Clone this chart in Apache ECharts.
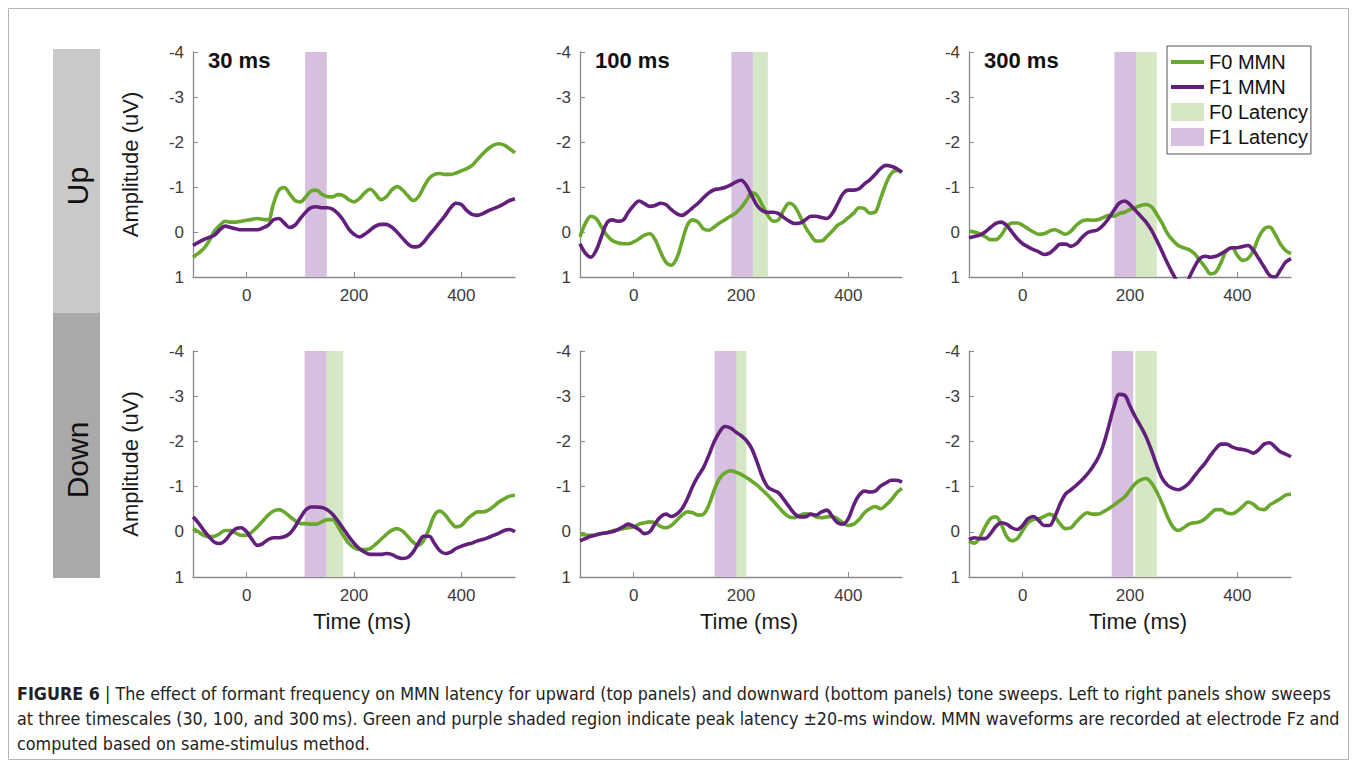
<!DOCTYPE html>
<html><head><meta charset="utf-8">
<script src="https://cdn.jsdelivr.net/npm/echarts@6/dist/echarts.min.js"></script>
<style>html,body{margin:0;padding:0;background:#fff}#c{width:1357px;height:767px}</style>
</head><body><div id="c"></div>
<script>
// ---------- DATA ----------
const T = [-100,-90,-80,-70,-60,-50,-40,-30,-20,-10,0,10,20,30,40,50,60,70,80,90,100,110,120,130,140,150,160,170,180,190,200,210,220,230,240,250,260,270,280,290,300,310,320,330,340,350,360,370,380,390,400,410,420,430,440,450,460,470,480,490,500];

const up30F0 = [0.56,0.47,0.37,0.2,-0.02,-0.15,-0.24,-0.22,-0.22,-0.24,-0.26,-0.28,-0.30,-0.28,-0.27,-0.63,-0.93,-0.99,-0.85,-0.70,-0.67,-0.78,-0.91,-0.93,-0.84,-0.79,-0.78,-0.83,-0.81,-0.72,-0.67,-0.74,-0.87,-0.95,-0.85,-0.72,-0.78,-0.93,-1.01,-0.94,-0.81,-0.70,-0.78,-1.0,-1.19,-1.28,-1.30,-1.28,-1.28,-1.31,-1.36,-1.41,-1.48,-1.61,-1.74,-1.85,-1.93,-1.96,-1.93,-1.85,-1.76];
const up30F1 = [0.30,0.23,0.17,0.12,0.07,-0.05,-0.13,-0.10,-0.07,-0.05,-0.05,-0.05,-0.05,-0.09,-0.15,-0.27,-0.30,-0.20,-0.10,-0.15,-0.30,-0.44,-0.54,-0.56,-0.54,-0.54,-0.51,-0.41,-0.26,-0.07,0.05,0.11,0.05,-0.04,-0.13,-0.17,-0.17,-0.11,0.0,0.13,0.26,0.33,0.32,0.22,0.07,-0.07,-0.22,-0.37,-0.54,-0.64,-0.61,-0.48,-0.39,-0.37,-0.41,-0.47,-0.52,-0.57,-0.63,-0.70,-0.74];
const up100F0 = [0.11,-0.19,-0.35,-0.30,-0.11,0.07,0.19,0.24,0.26,0.26,0.22,0.15,0.07,0.04,0.17,0.44,0.67,0.74,0.59,0.22,-0.15,-0.27,-0.22,-0.07,-0.04,-0.11,-0.20,-0.27,-0.35,-0.42,-0.54,-0.70,-0.87,-0.81,-0.59,-0.37,-0.24,-0.27,-0.50,-0.64,-0.57,-0.35,-0.11,0.07,0.20,0.20,0.10,-0.02,-0.15,-0.22,-0.32,-0.42,-0.54,-0.52,-0.42,-0.44,-0.74,-1.07,-1.30,-1.37,-1.33];
const up100F1 = [0.26,0.47,0.56,0.41,0.10,-0.20,-0.27,-0.24,-0.26,-0.44,-0.59,-0.69,-0.63,-0.57,-0.59,-0.64,-0.61,-0.50,-0.41,-0.37,-0.44,-0.54,-0.64,-0.76,-0.87,-0.94,-0.96,-0.99,-1.04,-1.11,-1.15,-1.04,-0.81,-0.59,-0.47,-0.44,-0.44,-0.41,-0.32,-0.24,-0.19,-0.20,-0.27,-0.35,-0.35,-0.32,-0.30,-0.41,-0.63,-0.85,-0.93,-0.93,-0.96,-1.07,-1.16,-1.28,-1.41,-1.48,-1.46,-1.41,-1.33];
const up300F0 = [-0.02,0,0.04,0.10,0.17,0.17,0.07,-0.11,-0.20,-0.20,-0.15,-0.07,0,0.05,0.04,-0.02,-0.05,0,0.05,-0.02,-0.15,-0.24,-0.27,-0.26,-0.27,-0.32,-0.37,-0.35,-0.41,-0.44,-0.50,-0.54,-0.59,-0.61,-0.56,-0.39,-0.19,0.04,0.19,0.30,0.35,0.39,0.48,0.63,0.78,0.93,0.89,0.67,0.41,0.35,0.52,0.63,0.59,0.41,0.11,-0.07,-0.11,0.04,0.26,0.41,0.48];
const up300F1 = [0.13,0.10,0.07,0,-0.10,-0.19,-0.22,-0.15,0,0.15,0.26,0.33,0.39,0.44,0.50,0.47,0.37,0.27,0.27,0.32,0.26,0.13,0.02,-0.02,-0.05,-0.15,-0.30,-0.48,-0.64,-0.69,-0.61,-0.48,-0.35,-0.22,-0.04,0.19,0.44,0.70,0.93,1.15,1.30,1.02,0.78,0.59,0.54,0.56,0.54,0.48,0.41,0.35,0.35,0.32,0.30,0.41,0.59,0.78,0.96,1.0,0.85,0.67,0.59];
const dn30F0 = [-0.07,0,0.08,0.11,0.10,0.04,-0.03,-0.03,0.03,0.08,0.08,0,-0.11,-0.24,-0.37,-0.46,-0.49,-0.44,-0.34,-0.25,-0.18,-0.18,-0.17,-0.17,-0.22,-0.27,-0.27,-0.12,0.08,0.25,0.35,0.39,0.39,0.37,0.28,0.17,0.06,-0.03,-0.07,-0.02,0.10,0.23,0.30,0.19,-0.07,-0.37,-0.46,-0.37,-0.22,-0.11,-0.14,-0.27,-0.37,-0.44,-0.44,-0.48,-0.56,-0.66,-0.73,-0.79,-0.81];
const dn30F1 = [-0.33,-0.20,-0.03,0.11,0.23,0.26,0.19,0.04,-0.07,-0.09,0,0.17,0.30,0.26,0.17,0.13,0.13,0.11,0.04,-0.11,-0.31,-0.48,-0.55,-0.55,-0.54,-0.49,-0.39,-0.24,-0.07,0.10,0.25,0.37,0.45,0.50,0.50,0.50,0.48,0.50,0.56,0.59,0.57,0.45,0.25,0.10,0.10,0.26,0.42,0.48,0.45,0.37,0.32,0.28,0.25,0.20,0.17,0.13,0.08,0.03,-0.03,-0.05,0];
const dn100F0 = [0.06,0.07,0.08,0.06,0.04,0.02,-0.02,-0.04,-0.07,-0.09,-0.11,-0.17,-0.20,-0.22,-0.20,-0.12,-0.09,-0.14,-0.25,-0.37,-0.44,-0.42,-0.37,-0.39,-0.59,-0.92,-1.18,-1.30,-1.35,-1.32,-1.27,-1.20,-1.12,-1.03,-0.92,-0.81,-0.68,-0.55,-0.42,-0.33,-0.31,-0.37,-0.40,-0.39,-0.33,-0.31,-0.33,-0.34,-0.29,-0.20,-0.14,-0.17,-0.27,-0.42,-0.51,-0.56,-0.51,-0.59,-0.71,-0.86,-0.96];
const dn100F1 = [0.20,0.15,0.10,0.07,0.04,0.02,0,-0.05,-0.11,-0.17,-0.12,-0.05,0.04,0,-0.18,-0.33,-0.39,-0.34,-0.39,-0.51,-0.73,-1.01,-1.23,-1.42,-1.69,-1.99,-2.21,-2.33,-2.30,-2.21,-2.13,-2.02,-1.84,-1.54,-1.21,-0.99,-0.92,-0.86,-0.71,-0.55,-0.40,-0.33,-0.33,-0.39,-0.37,-0.44,-0.48,-0.34,-0.20,-0.17,-0.29,-0.59,-0.81,-0.90,-0.88,-0.90,-1.01,-1.08,-1.14,-1.14,-1.10];
const dn300F0 = [0.20,0.25,0.13,-0.11,-0.29,-0.33,-0.17,0.10,0.20,0.15,-0.03,-0.20,-0.27,-0.29,-0.34,-0.39,-0.33,-0.17,-0.07,-0.09,-0.22,-0.34,-0.42,-0.39,-0.39,-0.44,-0.51,-0.59,-0.68,-0.77,-0.92,-1.07,-1.15,-1.18,-1.08,-0.88,-0.62,-0.33,-0.11,-0.03,-0.09,-0.17,-0.20,-0.22,-0.29,-0.40,-0.49,-0.49,-0.42,-0.40,-0.46,-0.56,-0.66,-0.61,-0.51,-0.49,-0.59,-0.66,-0.73,-0.81,-0.83];
const dn300F1 = [0.17,0.13,0.15,0.15,0.04,-0.12,-0.20,-0.17,-0.09,-0.05,-0.14,-0.29,-0.34,-0.25,-0.14,-0.14,-0.34,-0.62,-0.84,-0.93,-1.03,-1.14,-1.27,-1.43,-1.62,-1.91,-2.32,-2.76,-3.04,-3.02,-2.78,-2.54,-2.33,-2.10,-1.80,-1.47,-1.18,-1.03,-0.96,-0.93,-0.98,-1.08,-1.23,-1.38,-1.52,-1.69,-1.84,-1.94,-1.94,-1.88,-1.84,-1.82,-1.79,-1.74,-1.82,-1.94,-1.97,-1.88,-1.77,-1.72,-1.66];

// latency windows (peak +/- 20 ms), per timescale 30 / 100 / 300 ms
const upF0Lat = [[109,149],[210,250],[210,250]];
const upF1Lat = [[109,149],[182,222],[171,211]];
const dnF0Lat = [[140,180],[170,210],[210,250]];
const dnF1Lat = [[108,148],[151,191],[166,206]];

const panelTitles = ['30 ms','100 ms','300 ms'];
const rowLabels = ['Up','Down'];
const xTicks = [0,200,400];
const seriesNames = ['F0 MMN','F1 MMN','F0 Latency','F1 Latency'];
const captionHead = 'FIGURE 6';
const captionLines = [
  ' | The effect of formant frequency on MMN latency for upward (top panels) and downward (bottom panels) tone sweeps. Left to right panels show sweeps',
  'at three timescales (30, 100, and 300\u2009ms). Green and purple shaded region indicate peak latency \u00b120-ms window. MMN waveforms are recorded at electrode Fz and',
  'computed based on same-stimulus method.'
];

// ---------- CHART ----------
const FONT = "'Liberation Sans', Arial, sans-serif";
const GREEN = '#69a82c', PURPLE = '#62207c', GREEN_BAND = '#d5e7c5', PURPLE_BAND = '#d7bfe0';
const AXIS = '#8a8a8a', LABEL = '#3c3c3c';
const LINE_ICON = 'path://M0,0L33,0L33,4L0,4Z';

// caption font: condensed face if present, size fitted to the caption block width
function pickFont(list){
  const c = document.createElement('canvas').getContext('2d');
  c.font = '40px monospace'; const base = c.measureText('abcdefghijklmnop MMN Fz').width;
  for (const f of list){ c.font = "40px '"+f+"', monospace"; if (Math.abs(c.measureText('abcdefghijklmnop MMN Fz').width-base) > 0.5) return f; }
  return 'Liberation Sans';
}
const capFont = pickFont(['Liberation Sans Narrow','DejaVu Sans Condensed','Liberation Sans']);
const capFam = "'"+capFont+"', 'Liberation Sans', sans-serif";
const capSize = (function(){
  const c = document.createElement('canvas').getContext('2d');
  c.font = "bold 20px " + capFam; const wb = c.measureText(captionHead).width;
  c.font = "20px " + capFam;
  const w1 = wb + c.measureText(captionLines[0]).width;
  const w2 = c.measureText(captionLines[1]).width;
  return Math.min(20, 20*1324/Math.max(w1, w2));
})();

const rows = [
  {f0:[up30F0,up100F0,up300F0], f1:[up30F1,up100F1,up300F1], l0:upF0Lat, l1:upF1Lat},
  {f0:[dn30F0,dn100F0,dn300F0], f1:[dn30F1,dn100F1,dn300F1], l0:dnF0Lat, l1:dnF1Lat}
];
const lefts = [193, 580, 969], tops = [52, 351], heights = [225, 226], W = 322;

const grid = [], xAxis = [], yAxis = [], series = [], title = [];
function band(color){
  return function(params, api){
    const a = api.coord([api.value(0), -4]);
    const b = api.coord([api.value(1), 1]);
    return {type:'rect', shape:{x:a[0], y:a[1], width:b[0]-a[0], height:b[1]-a[1]}, style:{fill:color}};
  };
}
rows.forEach((row, r) => {
  for (let c = 0; c < 3; c++){
    const i = grid.length;
    grid.push({left:lefts[c], top:tops[r], width:W, height:heights[r], containLabel:false});
    xAxis.push({type:'value', gridIndex:i, min:-100, max:500,
      axisLine:{show:true, onZero:false, lineStyle:{color:AXIS, width:1.3}},
      axisTick:{show:true, inside:true, length:5, customValues:xTicks, lineStyle:{color:AXIS}},
      axisLabel:{customValues:xTicks, fontSize:17, color:LABEL, fontFamily:FONT, margin:10},
      splitLine:{show:false},
      name: r === 1 ? 'Time (ms)' : '', nameLocation:'middle', nameGap:33,
      nameTextStyle:{fontSize:22, color:'#1a1a1a', fontFamily:FONT, padding:[0,0,0,16]}});
    yAxis.push({type:'value', gridIndex:i, min:-4, max:1, interval:1, inverse:true,
      axisLine:{show:true, onZero:false, lineStyle:{color:AXIS, width:1.3}},
      axisTick:{show:true, inside:true, length:5, lineStyle:{color:AXIS}},
      axisLabel:{fontSize:17, color:LABEL, fontFamily:FONT, margin:9},
      splitLine:{show:false},
      name: c === 0 ? 'Amplitude (uV)' : '', nameLocation:'middle', nameGap:52, nameRotate:90,
      nameTextStyle:{fontSize:22, color:'#1a1a1a', fontFamily:FONT}});
    series.push({name:seriesNames[2], type:'custom', xAxisIndex:i, yAxisIndex:i, z:1, silent:true,
      itemStyle:{color:GREEN_BAND}, renderItem:band(GREEN_BAND), data:[row.l0[c]], encode:{x:[0,1]}});
    series.push({name:seriesNames[3], type:'custom', xAxisIndex:i, yAxisIndex:i, z:1, silent:true,
      itemStyle:{color:PURPLE_BAND}, renderItem:band(PURPLE_BAND), data:[row.l1[c]], encode:{x:[0,1]}});
    series.push({name:seriesNames[0], type:'line', xAxisIndex:i, yAxisIndex:i, z:3, smooth:0.35,
      symbol:'none', showSymbol:false, clip:true, color:GREEN,
      lineStyle:{color:GREEN, width:3.6}, data:T.map((t,k)=>[t,row.f0[c][k]])});
    series.push({name:seriesNames[1], type:'line', xAxisIndex:i, yAxisIndex:i, z:4, smooth:0.35,
      symbol:'none', showSymbol:false, clip:true, color:PURPLE,
      lineStyle:{color:PURPLE, width:3.6}, data:T.map((t,k)=>[t,row.f1[c][k]])});
    if (r === 0){
      title.push({text:panelTitles[c], left:lefts[c]+15, top:49, padding:0,
        textStyle:{fontSize:22, fontWeight:'bold', color:'#111', fontFamily:FONT}});
    }
  }
});

const graphic = [
  {type:'rect', z:-10, shape:{x:8.5, y:8.5, width:1340, height:751}, style:{fill:'none', stroke:'#b4b4b4', lineWidth:1}},
  {type:'rect', shape:{x:53, y:49, width:47, height:264}, style:{fill:'#c9c9c9'}},
  {type:'rect', shape:{x:53, y:313, width:47, height:265}, style:{fill:'#a9a9a9'}},
  {type:'text', x:77, y:186, rotation:Math.PI/2, style:{text:rowLabels[0], fontSize:30, fontFamily:FONT, fill:'#111', align:'center', verticalAlign:'middle'}},
  {type:'text', x:77, y:460, rotation:Math.PI/2, style:{text:rowLabels[1], fontSize:30, fontFamily:FONT, fill:'#111', align:'center', verticalAlign:'middle'}},
  {type:'text', x:17, y:693, style:{text:'{b|'+captionHead+'}' + captionLines[0], fontSize:capSize, fontFamily:capFam, fill:'#222', verticalAlign:'middle',
     rich:{b:{fontWeight:'bold', fontSize:capSize, fontFamily:capFam, fill:'#222'}}}},
  {type:'text', x:17, y:718, style:{text:captionLines[1], fontSize:capSize, fontFamily:capFam, fill:'#222', verticalAlign:'middle'}},
  {type:'text', x:17, y:743, style:{text:captionLines[2], fontSize:capSize, fontFamily:capFam, fill:'#222', verticalAlign:'middle'}}
];

const chart = echarts.init(document.getElementById('c'), null, {renderer:'svg', width:1357, height:767});
chart.setOption({
  animation:false,
  backgroundColor:'#fff',
  title, grid, xAxis, yAxis, series, graphic,
  legend:{orient:'vertical', left:1167, top:46, selectedMode:false,
    itemWidth:33, itemHeight:18, itemGap:5, padding:[6,3,7,4], symbolKeepAspect:true,
    borderColor:'#555', borderWidth:1, backgroundColor:'#fff', z:10,
    textStyle:{fontSize:20, color:'#111', fontFamily:FONT},
    data:[{name:seriesNames[0], icon:LINE_ICON},{name:seriesNames[1], icon:LINE_ICON},
          {name:seriesNames[2], icon:'rect'},{name:seriesNames[3], icon:'rect'}]}
});
</script></body></html>
